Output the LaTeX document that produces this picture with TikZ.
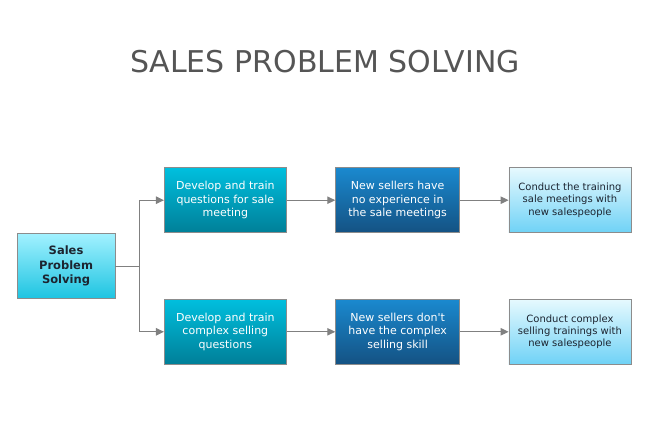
\documentclass[tikz,border=0pt]{standalone}
\usepackage{fontspec}
\setmainfont{DejaVu Sans}[Ligatures=TeXOff]
\usetikzlibrary{matrix, arrows.meta, calc}

\definecolor{edgegray}{HTML}{8C8C8C}
\definecolor{linkgray}{HTML}{808080}
\definecolor{titlegray}{HTML}{555555}
\definecolor{rootTop}{HTML}{A2F1FF}
\definecolor{rootBot}{HTML}{1EC4E1}
\definecolor{trainTop}{HTML}{00BFDE}
\definecolor{trainBot}{HTML}{007F98}
\definecolor{causeTop}{HTML}{1A89CF}
\definecolor{causeBot}{HTML}{145283}
\definecolor{actTop}{HTML}{E6F9FE}
\definecolor{actBot}{HTML}{6FD2F6}
\definecolor{darktext}{HTML}{1C2430}

\tikzset{
  box/.style = {draw=edgegray, line width=0.8pt, minimum height=65pt, align=center, inner sep=2pt},
  rootbox/.style = {box, minimum width=98pt, top color=rootTop, bottom color=rootBot, text=darktext, font=\fontsize{11.5}{14.5}\selectfont\bfseries},
  trainbox/.style = {box, minimum width=122pt, top color=trainTop, bottom color=trainBot, text=white, font=\fontsize{11}{13.3}\selectfont},
  causebox/.style = {box, minimum width=124pt, top color=causeTop, bottom color=causeBot, text=white, font=\fontsize{11}{13.3}\selectfont},
  actbox/.style = {box, minimum width=122pt, top color=actTop, bottom color=actBot, text=darktext, font=\fontsize{10}{12.2}\selectfont},
  link/.style = {draw=linkgray, line width=1pt, -{Triangle[length=8pt, width=7.5pt]}}
}

\begin{document}
\begin{tikzpicture}[x=1pt, y=-1pt]
\useasboundingbox (0,0) rectangle (650,430);

\node[anchor=base, text=titlegray, font=\fontsize{30}{36}\selectfont] (title) at (325,73) {SALES PROBLEM SOLVING};

\matrix (m) at (324,266) [column sep=48.5pt, row sep=0pt]{
 & \node[trainbox](trainA){Develop and train\\questions for sale\\meeting}; & \node[causebox](causeA){New sellers have\\no experience in\\the sale meetings}; & \node[actbox](actA){Conduct the training\\sale meetings with\\new salespeople}; \\
\node[rootbox](root){Sales\\Problem\\Solving}; & & & \\
 & \node[trainbox](trainB){Develop and train\\complex selling\\questions}; & \node[causebox](causeB){New sellers don't\\have the complex\\selling skill}; & \node[actbox](actB){Conduct complex\\selling trainings with\\new salespeople}; \\
};

\coordinate (split) at ($(root.east)+(24,0)$);
\draw[link] (root.east) -- (split) |- (trainA);
\draw[link] (split) |- (trainB);
\draw[link] (trainA) -- (causeA);
\draw[link] (causeA) -- (actA);
\draw[link] (trainB) -- (causeB);
\draw[link] (causeB) -- (actB);
\end{tikzpicture}
\end{document}
